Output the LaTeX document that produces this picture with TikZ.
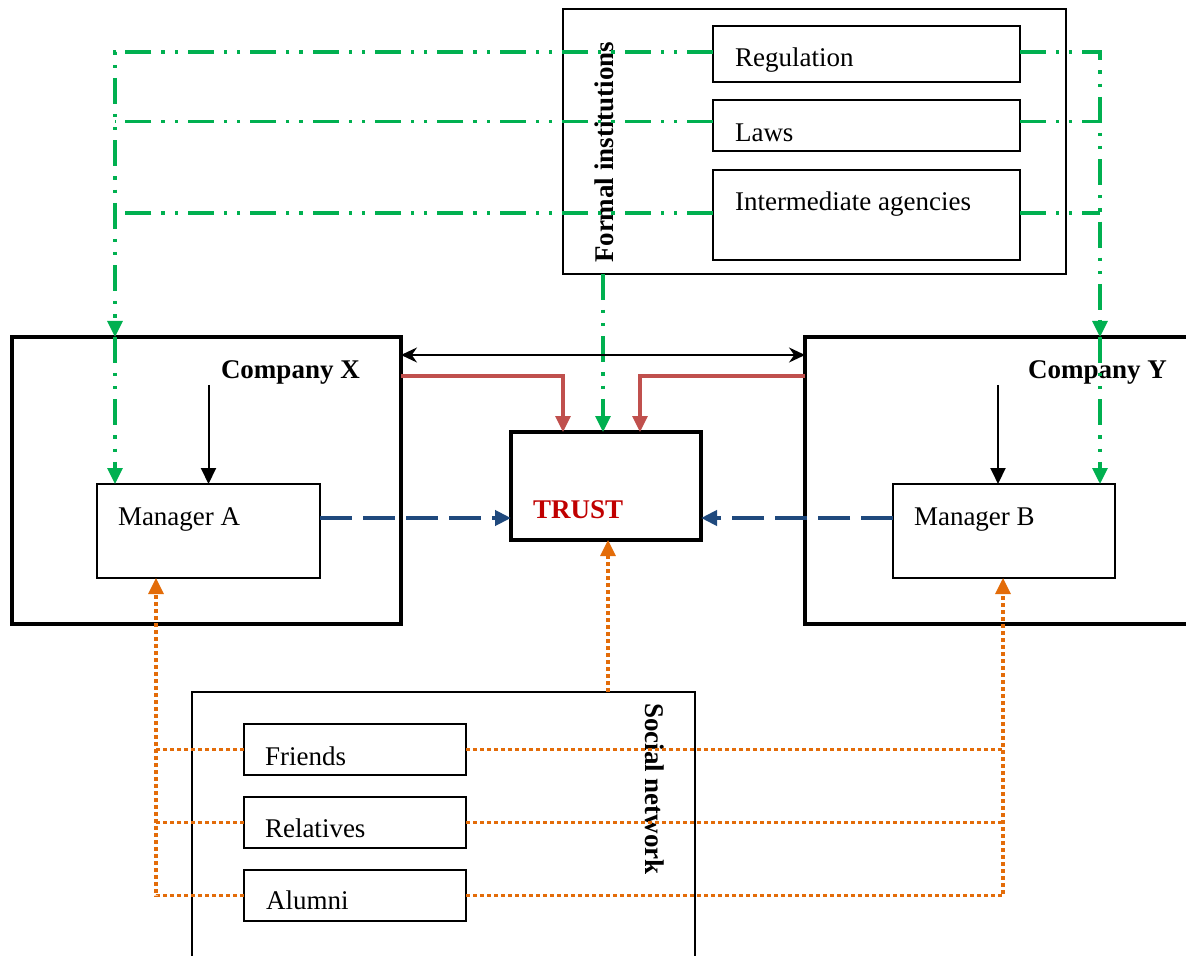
\documentclass[tikz,border=0pt]{standalone}
\usepackage{fontspec}
\setmainfont{Liberation Serif}
\usetikzlibrary{arrows.meta,positioning}
\definecolor{instgreen}{HTML}{00B050}
\definecolor{tieorange}{HTML}{E36C09}
\definecolor{peerblue}{HTML}{1F497D}
\definecolor{firmred}{HTML}{C0504D}
\definecolor{trustred}{HTML}{C00000}

\begin{document}
\begin{tikzpicture}[
    x=0.5pt,y=-0.5pt,
    font=\fontsize{13.5}{16}\selectfont,
    node distance=9pt,
    every node/.style={outer sep=0pt},
    box/.style={draw,line width=1pt,minimum width=153.5pt,anchor=north west,inner sep=0pt},
    smallbox/.style={draw,line width=1pt,minimum width=111pt,minimum height=25.5pt,anchor=north west,inner sep=0pt},
    firmbox/.style={draw,line width=2pt,minimum height=143.5pt,anchor=north west,inner sep=0pt},
    groupbox/.style={draw,line width=1pt,minimum width=251.5pt,anchor=north west,inner sep=0pt},
    lbl/.style={anchor=base west,inner sep=0pt},
    head/.style={lbl,font=\fontsize{13.5}{16}\selectfont\bfseries},
    tip/.style={-{Triangle[length=8pt,width=7.5pt]}},
    formal/.style={line width=1.6pt,draw=instgreen,dash pattern=on 13pt off 5pt on 1.6pt off 5pt on 1.6pt off 5pt},
    social/.style={line width=1.6pt,draw=tieorange,dash pattern=on 2pt off 1.5pt},
    peer/.style={line width=2pt,draw=peerblue,dash pattern=on 16pt off 5.5pt},
    firm/.style={line width=1.6pt,draw=firmred},
    link/.style={line width=1pt,draw=black}
]
\useasboundingbox (0,0) rectangle (1186,956);
\clip (0,0) rectangle (1186,956);

% formal institutions
\node[groupbox,minimum height=132.5pt] (fi) at (563,9) {};
\node[box,minimum height=28pt] (reg) at (713,26) {};
\node[box,minimum height=25.5pt,below=9pt of reg.south west,anchor=north west] (laws) {};
\node[box,minimum height=45pt,below=9.5pt of laws.south west,anchor=north west] (ag) {};
\node[lbl] (regl) at (735,67) {Regulation};
\node[lbl] (lawsl) at (735,142) {Laws};
\node[lbl] (agl) at (735,211) {Intermediate agencies};
\node[head,rotate=90] (fil) at (613,263) {Formal institutions};

% companies and managers
\node[firmbox,minimum width=194.5pt] (cx) at (12,337) {};
\node[firmbox,minimum width=200pt] (cy) at (805,337) {};
\node[head] (cxl) at (221,379) {Company X};
\node[head] (cyl) at (1028,379) {Company Y};
\node[draw,line width=1pt,minimum width=111.5pt,minimum height=47pt,anchor=north west] (ma) at (97,484) {};
\node[draw,line width=1pt,minimum width=111pt,minimum height=47pt,anchor=north west] (mb) at (893,484) {};
\node[lbl] (mal) at (118,525) {Manager A};
\node[lbl] (mbl) at (914,525) {Manager B};

% trust
\node[draw,line width=2pt,minimum width=95pt,minimum height=54pt,anchor=north west] (trust) at (511,432) {};
\node[head,text=trustred] (trustl) at (533,518) {TRUST};

% social network
\node[groupbox,minimum height=141.5pt] (soc) at (192,692) {};
\node[smallbox] (fr) at (244,724) {};
\node[smallbox,below=11pt of fr.south west,anchor=north west] (rel) {};
\node[smallbox,below=11pt of rel.south west,anchor=north west] (al) {};
\node[lbl] (frl) at (265,765) {Friends};
\node[lbl] (rell) at (265,837) {Relatives};
\node[lbl] (all) at (266,909) {Alumni};
\node[head,rotate=-90] (snl) at (645,703) {Social network};

\coordinate (gl) at (115,0);
\coordinate (gr) at (1100,0);
\coordinate (ol) at (156,0);
\coordinate (or) at (1003,0);

% green: formal institutions
\draw[formal,tip] ([yshift=1pt]reg.west) -- ([yshift=1pt]reg.west -| gl) -- (cx.north -| gl);
\draw[formal] ([yshift=2pt]laws.west) -- ([yshift=2pt]laws.west -| gl);
\draw[formal] ([yshift=1pt]ag.west) -- ([yshift=1pt]ag.west -| gl);
\draw[formal,tip] (cx.north -| gl) -- (ma.north -| gl);
\draw[formal,tip] ([yshift=1pt]reg.east) -- ([yshift=1pt]reg.east -| gr) -- (cy.north -| gr);
\draw[formal] ([yshift=2pt]laws.east) -- ([yshift=2pt]laws.east -| gr);
\draw[formal] ([yshift=1pt]ag.east) -- ([yshift=1pt]ag.east -| gr);
\draw[formal,tip] (cy.north -| gr) -- (mb.north -| gr);
\draw[formal,tip] ([xshift=-1.5pt]fi.south -| trust.north) -- ([xshift=-1.5pt]trust.north);

% companies
\draw[link,{Stealth[length=8pt,width=7.5pt]}-{Stealth[length=8pt,width=7.5pt]}] ([yshift=-9pt]cx.north east) -- ([yshift=-9pt]cy.north west);
\draw[firm,tip] ([yshift=-19.5pt]cx.north east) -| ([xshift=-21.5pt]trust.north);
\draw[firm,tip] ([yshift=-19.5pt]cy.north west) -| ([xshift=17pt]trust.north);
\draw[link,tip] (ma.north |- cxl.south) -- (ma.north);
\draw[link,tip] ([xshift=-3pt]mb.north |- cyl.south) -- ([xshift=-3pt]mb.north);
\draw[peer,tip] ([yshift=6.5pt]ma.east) -- ([yshift=6.5pt]ma.east -| trust.west);
\draw[peer,tip] ([yshift=6.5pt]mb.west) -- ([yshift=6.5pt]mb.west -| trust.east);

% orange: social network
\draw[social,tip] ([xshift=1pt]soc.north -| trust.south) -- ([xshift=1pt]trust.south);
\draw[social] (fr.west) -- (fr.west -| ol);
\draw[social] (rel.west) -- (rel.west -| ol);
\draw[social,tip] (al.west) -- (al.west -| ol) -- (ma.south -| ol);
\draw[social] (fr.east) -- (fr.east -| or);
\draw[social] (rel.east) -- (rel.east -| or);
\draw[social,tip] (al.east) -- (al.east -| or) -- (mb.south -| or);
\end{tikzpicture}
\end{document}
